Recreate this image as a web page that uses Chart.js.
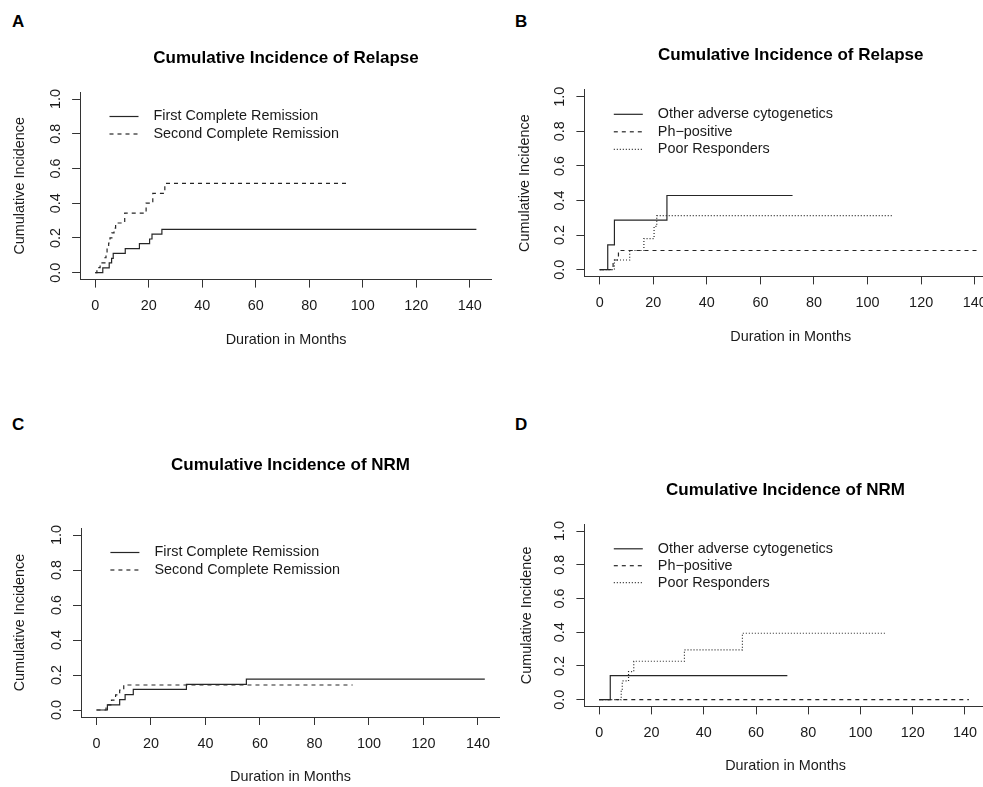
<!DOCTYPE html>
<html>
<head>
<meta charset="utf-8">
<script src="https://cdn.jsdelivr.net/npm/chart.js@4.4.0/dist/chart.umd.min.js"></script>
<style>
html,body{margin:0;padding:0;background:#fff;overflow:hidden;width:983px;height:787px;position:relative;}
.letter{position:absolute;font:bold 17px "Liberation Sans",Arial,Helvetica,sans-serif;line-height:17px;color:#000;}
canvas{position:absolute;}
</style>
</head>
<body>
<div class="letter" style="left:12px;top:13px">A</div>
<div class="letter" style="left:515px;top:13px">B</div>
<div class="letter" style="left:12px;top:416px">C</div>
<div class="letter" style="left:515px;top:416px">D</div>
<script>
// ---------- shared tick labels ----------
const xTickValues = [0, 20, 40, 60, 80, 100, 120, 140];
const yTickValues = [0, 0.2, 0.4, 0.6, 0.8, 1.0];

// ---------- Panel A: Relapse by remission status ----------
const monthsA_first  = [0, 2.8, 5.2, 6.1, 6.7, 11.2, 16.5, 20.3, 21.2, 24.9, 142.5];
const ciA_first      = [0, 0.028, 0.056, 0.083, 0.111, 0.139, 0.167, 0.194, 0.222, 0.25, 0.25];
const monthsA_second = [0, 0.6, 1.8, 3.6, 4.0, 4.4, 5.0, 5.5, 6.2, 7.0, 7.6, 11, 19, 21.5, 26, 94];
const ciA_second     = [0, 0.029, 0.057, 0.086, 0.114, 0.143, 0.171, 0.2, 0.229, 0.257, 0.286, 0.343, 0.4, 0.457, 0.514, 0.514];

// ---------- Panel B: Relapse by cytogenetic group ----------
const monthsB_other = [0, 3.0, 5.5, 25.1, 72];
const ciB_other     = [0, 0.143, 0.286, 0.429, 0.429];
const monthsB_ph    = [0, 5.0, 7.0, 141.5];
const ciB_ph        = [0, 0.056, 0.111, 0.111];
const monthsB_poor  = [0, 5.5, 11.2, 16.5, 20.3, 21.3, 109.5];
const ciB_poor      = [0, 0.056, 0.111, 0.18, 0.25, 0.312, 0.312];

// ---------- Panel C: NRM by remission status ----------
const monthsC_first  = [0, 4, 8.5, 10.5, 13.5, 33, 55, 142.5];
const ciC_first      = [0, 0.029, 0.059, 0.088, 0.118, 0.147, 0.176, 0.176];
const monthsC_second = [0, 3.5, 5.5, 7, 8.5, 10, 94];
const ciC_second     = [0, 0.029, 0.057, 0.086, 0.114, 0.143, 0.143];

// ---------- Panel D: NRM by cytogenetic group ----------
const monthsD_other = [0, 4.2, 72];
const ciD_other     = [0, 0.143, 0.143];
const monthsD_ph    = [0, 141.5];
const ciD_ph        = [0, 0];
const monthsD_poor  = [0, 8.4, 8.8, 11.2, 13.2, 32.6, 54.8, 109.5];
const ciD_poor      = [0, 0.056, 0.111, 0.167, 0.228, 0.295, 0.394, 0.394];

const labelsRemission = ['First Complete Remission', 'Second Complete Remission'];
const labelsCyto = ['Other adverse cytogenetics', 'Ph\u2212positive', 'Poor Responders'];
const titleRelapse = 'Cumulative Incidence of Relapse';
const titleNRM = 'Cumulative Incidence of NRM';

const FONT = '"Liberation Sans", Arial, Helvetica, sans-serif';
const INK = '#1a1a1a';
const LINE = '#262626';
const STYLES = { solid: [], dashed: [4, 4], dotted: [1, 2] };

function series(label, months, ci, style) {
  return {
    label: label,
    data: months.map((m, i) => ({ x: m, y: ci[i] })),
    borderColor: LINE,
    borderWidth: 1.2,
    borderDash: STYLES[style],
    stepped: true,
    pointRadius: 0,
    fill: false
  };
}

const yTickLabels = {
  id: 'yTickLabels',
  afterDraw(chart) {
    const s = chart.scales.y, ctx = chart.ctx;
    ctx.save();
    ctx.font = '14.4px ' + FONT;
    ctx.fillStyle = INK;
    ctx.textAlign = 'center';
    ctx.textBaseline = 'middle';
    s.ticks.forEach(t => {
      const y = s.getPixelForValue(t.value);
      ctx.save();
      ctx.translate(chart.chartArea.left - 24, y);
      ctx.rotate(-Math.PI / 2);
      ctx.fillText(t.value.toFixed(1), 0, 0);
      ctx.restore();
    });
    ctx.restore();
  }
};

const lineLegend = {
  id: 'lineLegend',
  afterDraw(chart, args, opts) {
    const { ctx, chartArea } = chart;
    chart.data.datasets.forEach((ds, i) => {
      const y = chartArea.top + opts.top + i * opts.gap;
      ctx.save();
      ctx.strokeStyle = ds.borderColor;
      ctx.lineWidth = ds.borderWidth;
      ctx.setLineDash(ds.borderDash || []);
      ctx.beginPath();
      ctx.moveTo(chartArea.left + opts.x1, y);
      ctx.lineTo(chartArea.left + opts.x2, y);
      ctx.stroke();
      ctx.setLineDash([]);
      ctx.font = '14.4px ' + FONT;
      ctx.fillStyle = INK;
      ctx.textAlign = 'left';
      ctx.textBaseline = 'middle';
      ctx.fillText(ds.label, chartArea.left + opts.tx, y);
      ctx.restore();
    });
  }
};

function makeChart(p, title, datasets) {
  const cl = Math.round(p.yTitleX - 8.64);
  const ct = Math.round(p.titleY - 10.2);
  const cr = Math.round(p.R);
  const cb = Math.round(p.xTitleY + 8.64);
  const cv = document.createElement('canvas');
  cv.width = cr - cl; cv.height = cb - ct;
  cv.style.left = cl + 'px'; cv.style.top = ct + 'px';
  cv.style.width = (cr - cl) + 'px'; cv.style.height = (cb - ct) + 'px';
  document.body.appendChild(cv);
  const kx = (p.x140 - p.x0) / 140;
  const xmin = (p.L - p.x0) / kx, xmax = (cr - p.x0) / kx;
  const ky = p.y0 - p.y1;
  const ymin = -(p.B - p.y0) / ky, ymax = 1 + (p.y1 - p.T) / ky;
  const gridOpts = { drawOnChartArea: false, drawTicks: true, tickLength: 8, tickColor: '#333', lineWidth: 1 };
  const borderOpts = { display: true, color: '#333', width: 1 };
  new Chart(cv, {
    type: 'line',
    data: { datasets: datasets },
    options: {
      responsive: false, animation: false, devicePixelRatio: 1,
      layout: { padding: 0 },
      plugins: {
        legend: { display: false },
        tooltip: { enabled: false },
        title: {
          display: true, text: title, fullSize: false, color: '#000',
          font: { family: FONT, size: 17, weight: 'bold' },
          padding: { top: 0, bottom: p.T - ct - 20.4 }
        },
        lineLegend: { x1: 29.4, x2: 58.4, tx: 73.4, top: 24.5, gap: p.gap }
      },
      scales: {
        x: {
          type: 'linear', min: xmin, max: xmax,
          afterBuildTicks: s => { s.ticks = xTickValues.map(v => ({ value: v })); },
          afterFit: s => { s.height = cb - p.B; },
          grid: gridOpts, border: borderOpts,
          ticks: { font: { family: FONT, size: 14.4 }, color: INK, padding: 10, maxRotation: 0, autoSkip: false, callback: v => String(v) },
          title: { display: true, text: 'Duration in Months', color: INK, font: { family: FONT, size: 14.4 }, padding: 0 }
        },
        y: {
          type: 'linear', min: ymin, max: ymax,
          afterBuildTicks: s => { s.ticks = yTickValues.map(v => ({ value: v })); },
          afterFit: s => { s.width = p.L - cl; },
          grid: gridOpts, border: borderOpts,
          ticks: { display: false },
          title: { display: true, text: 'Cumulative Incidence', color: INK, font: { family: FONT, size: 14.4 }, padding: 0 }
        }
      }
    },
    plugins: [yTickLabels, lineLegend]
  });
}

makeChart({ L: 80.1, R: 491.6, T: 92, B: 279.6, titleY: 58.3, xTitleY: 340, yTitleX: 19.5,
            x0: 95.3, x140: 469.7, y0: 272.7, y1: 99, gap: 17.5 },
  titleRelapse, [
    series(labelsRemission[0], monthsA_first, ciA_first, 'solid'),
    series(labelsRemission[1], monthsA_second, ciA_second, 'dashed')
  ]);

makeChart({ L: 584.4, R: 996.7, T: 89.8, B: 276.4, titleY: 55, xTitleY: 337, yTitleX: 525,
            x0: 599.7, x140: 974.7, y0: 269.7, y1: 96.7, gap: 17.5 },
  titleRelapse, [
    series(labelsCyto[0], monthsB_other, ciB_other, 'solid'),
    series(labelsCyto[1], monthsB_ph, ciB_ph, 'dashed'),
    series(labelsCyto[2], monthsB_poor, ciB_poor, 'dotted')
  ]);

makeChart({ L: 81, R: 500.3, T: 528, B: 717, titleY: 465, xTitleY: 777, yTitleX: 20,
            x0: 96.5, x140: 478, y0: 710, y1: 535, gap: 17.5 },
  titleNRM, [
    series(labelsRemission[0], monthsC_first, ciC_first, 'solid'),
    series(labelsRemission[1], monthsC_second, ciC_second, 'dashed')
  ]);

makeChart({ L: 584.4, R: 986.7, T: 524.3, B: 706.4, titleY: 490, xTitleY: 766, yTitleX: 526.7,
            x0: 599.3, x140: 965.3, y0: 699.7, y1: 531, gap: 16.9 },
  titleNRM, [
    series(labelsCyto[0], monthsD_other, ciD_other, 'solid'),
    series(labelsCyto[1], monthsD_ph, ciD_ph, 'dashed'),
    series(labelsCyto[2], monthsD_poor, ciD_poor, 'dotted')
  ]);
</script>
</body>
</html>
